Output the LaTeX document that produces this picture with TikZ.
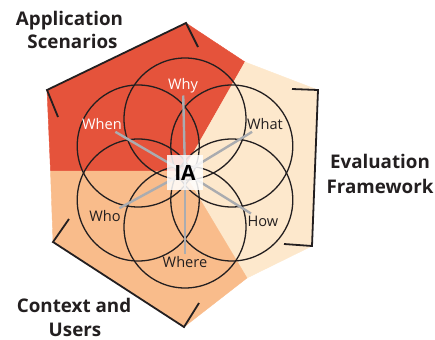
\documentclass[tikz,border=0pt]{standalone}
\usepackage{fontspec}
\setmainfont{Open Sans}
\definecolor{redc}{RGB}{229,83,59}
\definecolor{peachc}{RGB}{253,232,204}
\definecolor{orangec}{RGB}{249,188,139}
\definecolor{spokec}{RGB}{170,172,176}
\definecolor{inkc}{RGB}{35,31,32}
\begin{document}
\begin{tikzpicture}[x=1pt,y=-1pt,
  sector/.style={line width=0.4pt},
  bracket/.style={draw=inkc,line width=1.8pt,line join=miter},
  ring/.style={draw=inkc,line width=1.3pt},
  spoke/.style={draw=spokec,line width=2.4pt},
  lab/.style={font=\fontsize{14.6}{16}\selectfont,text=inkc,inner sep=2pt},
  wlab/.style={lab,text=white},
  title/.style={font=\fontsize{18.8}{22}\selectfont\bfseries,text=inkc,inner sep=0pt,anchor=base},
  iabox/.style={fill=white,fill opacity=0.85,text opacity=1,minimum width=36pt,minimum height=35pt,inner sep=0pt,font=\fontsize{21}{24}\selectfont\bfseries,text=black}]
\useasboundingbox (0,0) rectangle (435,339);
% sectors
\fill[redc,draw=redc,sector] (183,171) -- (245,62) -- (186,23) -- (47,90) -- (50.5,171) -- cycle;
\fill[peachc,draw=peachc,sector] (183,171) -- (245,62) -- (318,90) -- (312,246) -- (247,278) -- cycle;
\fill[orangec,draw=orangec,sector] (183,171) -- (50.5,171) -- (53,242) -- (184,327) -- (247,278) -- cycle;
% brackets
\draw[bracket] (58,117) -- (47,90) -- (186,23) -- (198,47);
\draw[bracket] (292,89) -- (318,90) -- (312,246) -- (284,244);
\draw[bracket] (69,219) -- (53,242) -- (184,327) -- (199,303);
% circles
\draw[ring] (185,119) circle[radius=61pt];
\draw[ring] (231.8,146) circle[radius=61pt];
\draw[ring] (231.8,200) circle[radius=61pt];
\draw[ring] (185,227) circle[radius=61pt];
\draw[ring] (138.2,200) circle[radius=61pt];
\draw[ring] (138.2,146) circle[radius=61pt];
% labels
\node[wlab] (why) at (183,86) {Why};
\node[wlab] (when) at (102,124) {When};
\node[lab] (what) at (265,124) {What};
\node[lab] (how) at (263,221) {How};
\node[lab] (who) at (105,216) {Who};
\node[lab] (where) at (185,262) {Where};
\coordinate (hub) at (185,172.5);
\foreach \n in {why,when,what,how,who,where}{\draw[spoke] (hub) -- (\n);}
\node[iabox] (ia) at (hub) {IA};
% titles
\node[title] (t1) at (69.5,25.7) {Application};
\node[title] (t2) at (72.5,49) {Scenarios};
\node[title] (t3) at (380,168) {Evaluation};
\node[title] (t4) at (380,193) {Framework};
\node[title] (t5) at (74,312) {Context and};
\node[title] (t6) at (75,336) {Users};
\end{tikzpicture}
\end{document}
